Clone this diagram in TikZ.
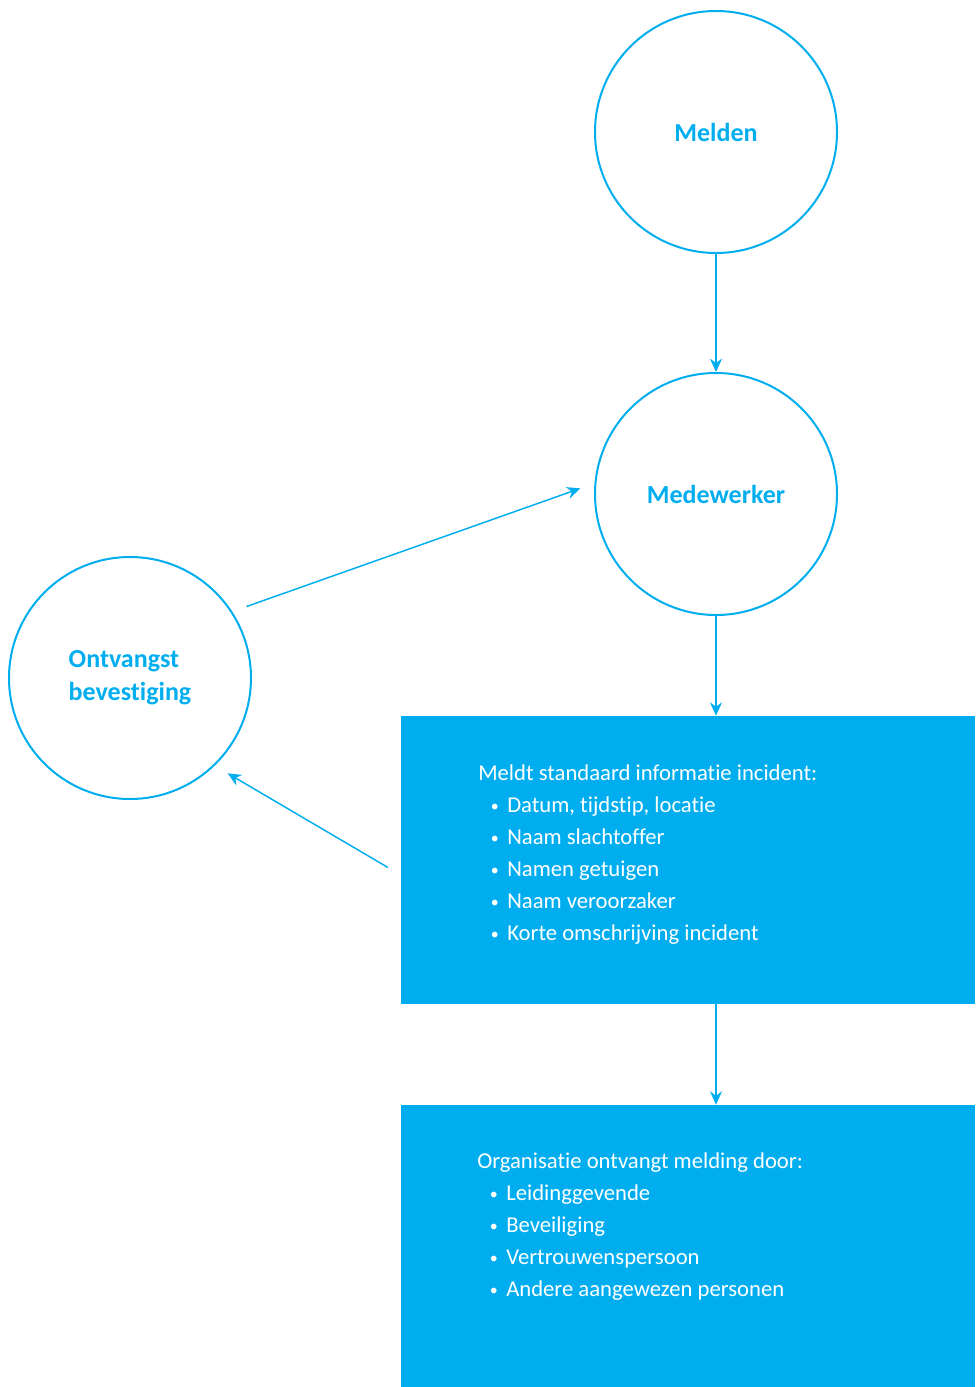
\documentclass[tikz,border=0pt]{standalone}
\usepackage{fontspec}
\setmainfont{Carlito}[Ligatures=NoCommon]
\usetikzlibrary{arrows.meta}
\definecolor{rcyan}{HTML}{00AEEF}
\newcommand{\bitem}{\makebox[21.75pt][l]{\hspace{9.5pt}\raisebox{0.6pt}{\fontsize{12}{12}\selectfont\textbullet}}}
\begin{document}
\begin{tikzpicture}[x=0.75pt,y=-0.75pt,
  circ/.style={circle,draw=rcyan,line width=1.5pt,minimum size=181.5pt,inner sep=0pt,
    text=rcyan,font=\fontsize{19.5}{24.75}\selectfont\bfseries},
  infobox/.style={fill=rcyan,draw=none,inner sep=0pt,minimum width=430.5pt},
  boxtext/.style={anchor=base west,inner sep=0pt,text=white,
    font=\fontsize{17}{24}\selectfont},
  arr/.style={draw=rcyan,line width=1.1pt,-{Stealth[length=10pt,width=9pt]}},
  gap/.style={shorten <=11.25pt,shorten >=11.25pt}]
\useasboundingbox (0,0) rectangle (975,1387);
\node[circ] (mel) at (716,132) {Melden};
\node[circ] (med) at (716,494) {Medewerker};
\node[circ,align=left] (ont) at (130,678) {Ontvangst\\bevestiging};
\node[infobox,minimum height=216pt] (b1) at (688,860) {};
\node[infobox,minimum height=211.5pt] (b2) at (688,1246) {};
\node[boxtext] (t1) at (478,780) {\begin{tabular}[t]{@{}l@{}}
Meldt standaard informatie incident:\\
\bitem Datum, tijdstip, locatie\\
\bitem Naam slachtoffer\\
\bitem Namen getuigen\\
\bitem Naam veroorzaker\\
\bitem Korte omschrijving incident
\end{tabular}};
\node[boxtext] (t2) at (477,1168) {\begin{tabular}[t]{@{}l@{}}
Organisatie ontvangt melding door:\\
\bitem Leidinggevende\\
\bitem Beveiliging\\
\bitem Vertrouwenspersoon\\
\bitem Andere aangewezen personen
\end{tabular}};
\draw[arr] (mel.south) -- (med.north);
\draw[arr] (med.south) -- (med.south |- b1.north);
\draw[arr] (med.south |- b1.south) -- (med.south |- b2.north);
\draw[arr,gap] (ont.33) -- (med.175);
\draw[arr,gap] ([yshift=-11.25pt]b1.west) -- (ont.-46);
\end{tikzpicture}
\end{document}
